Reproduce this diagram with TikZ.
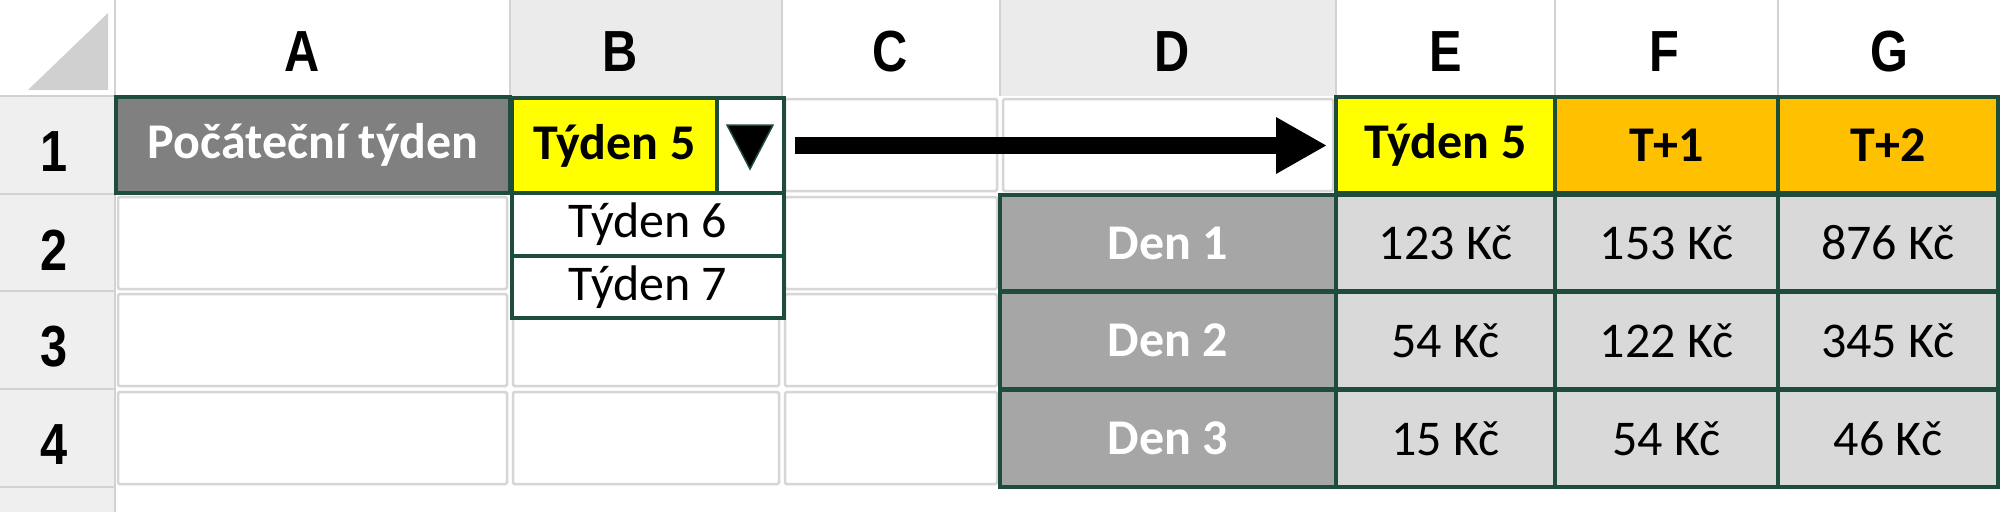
\documentclass[tikz,border=0pt]{standalone}
\usepackage{fontspec}
\setmainfont{Carlito}
\newfontfamily\hdrfont[FakeStretch=0.84]{Liberation Sans}
\usetikzlibrary{arrows.meta}
\definecolor{bord}{HTML}{1E4D3C}
\definecolor{gridc}{HTML}{D6D6D6}
\definecolor{hdrgray}{HTML}{EBEBEB}
\definecolor{rowhdr}{HTML}{EFEFEF}
\definecolor{sepc}{HTML}{D2D2D2}
\definecolor{darkfill}{HTML}{808080}
\definecolor{denfill}{HTML}{A6A6A6}
\definecolor{valfill}{HTML}{D9D9D9}
\definecolor{yel}{HTML}{FFFF00}
\definecolor{orng}{HTML}{FFC000}
\definecolor{tric}{HTML}{D0D0D0}
\tikzset{
  sz/.style 2 args={minimum width=#1pt, minimum height=#2pt},
  anyc/.style={inner sep=0pt, outer sep=0pt, anchor=north west},
  gridcell/.style={anyc, draw=gridc, line width=2.5pt, rounded corners=1.5pt, fill=white},
  hdrcell/.style={anyc},
  gbox/.style={anyc, draw=bord, line width=3.2pt},
  celltxt/.style={font=\fontsize{50}{60}\selectfont},
  boldtxt/.style={font=\fontsize{50}{60}\selectfont\bfseries},
  hdrtxt/.style={inner sep=0pt, font=\hdrfont\bfseries\fontsize{58}{66}\selectfont},
  bigarrow/.style={line width=17pt, -{Triangle[length=51pt,width=53pt]}}
}
\begin{document}
\begin{tikzpicture}[x=1pt,y=-1pt]
\useasboundingbox (0,0) rectangle (2001,512);
\fill[white] (0,0) rectangle (2001,512);
% header row
\node[hdrcell, fill=white, sz={115}{96}] (corner) at (0,0) {};
\fill[tric] (28,90) -- (108,13) -- (108,90) -- cycle;
\node[hdrcell, fill=white, sz={395}{96}] (hA) at (115,0) {};
\node[hdrcell, fill=hdrgray, sz={272}{96}] (hB) at (510,0) {};
\node[hdrcell, fill=white, sz={218}{96}] (hC) at (782,0) {};
\node[hdrcell, fill=hdrgray, sz={336}{96}] (hD) at (1000,0) {};
\node[hdrcell, fill=white, sz={219}{96}] (hE) at (1336,0) {};
\node[hdrcell, fill=white, sz={223}{96}] (hF) at (1555,0) {};
\node[hdrcell, fill=white, sz={223}{96}] (hG) at (1778,0) {};
\foreach \xx in {115,510,782,1000,1336,1555,1778}
  \draw[sepc, line width=1.5pt] (\xx,0) -- (\xx,96);
\node[hdrtxt] (lA) at (302,52) {A};
\node[hdrtxt] (lB) at (620,52) {B};
\node[hdrtxt] (lC) at (890,52) {C};
\node[hdrtxt] (lD) at (1172,52) {D};
\node[hdrtxt] (lE) at (1446,52) {E};
\node[hdrtxt] (lF) at (1664,52) {F};
\node[hdrtxt] (lG) at (1889,52) {G};
% row header column
\fill[rowhdr] (0,96) rectangle (115,512);
\foreach \yy in {96,194,291,389,487}
  \draw[sepc, line width=2.5pt] (0,\yy) -- (115,\yy);
\draw[sepc, line width=1.5pt] (115,96) -- (115,512);
\node[hdrtxt] (r1) at (54,152) {1};
\node[hdrtxt] (r2) at (54,250) {2};
\node[hdrtxt] (r3) at (54,347) {3};
\node[hdrtxt] (r4) at (54,445) {4};
% empty grid cells
\node[gridcell, sz={389}{92}] (A2) at (118,197) {};
\node[gridcell, sz={389}{92}] (A3) at (118,294) {};
\node[gridcell, sz={389}{92}] (A4) at (118,392) {};
\node[gridcell, sz={266}{92}] (B3) at (513,294) {};
\node[gridcell, sz={266}{92}] (B4) at (513,392) {};
\node[gridcell, sz={212}{92}] (C1) at (785,99) {};
\node[gridcell, sz={212}{92}] (C2) at (785,197) {};
\node[gridcell, sz={212}{92}] (C3) at (785,294) {};
\node[gridcell, sz={212}{92}] (C4) at (785,392) {};
\node[gridcell, sz={330}{92}] (D1) at (1003,99) {};
% row 1 boxes
\node[gbox, fill=darkfill, sz={394}{96}, text=white, boldtxt] (A1) at (116,97) {Počáteční týden};
\node[gbox, fill=white, sz={272}{63}, celltxt] (T6) at (512,193) {Týden 6};
\node[gbox, fill=white, sz={272}{62}, celltxt] (T7) at (512,256) {Týden 7};
\node[gbox, fill=yel, sz={205}{95}, boldtxt] (B1) at (512,98) {Týden 5};
\node[gbox, fill=white, sz={67}{95}] (btn) at (717,98) {};
\fill[black, draw=bord, line width=1.5pt] (727,125) -- (773,125) -- (750,169) -- cycle;
\node[gbox, fill=yel, sz={219}{96}, boldtxt] (E1) at (1336,97) {Týden 5};
\node[gbox, fill=orng, sz={223}{96}, boldtxt] (F1) at (1555,97) {T+1};
\node[gbox, fill=orng, sz={220}{96}, boldtxt] (G1) at (1778,97) {T+2};
% rows 2-4
\node[gbox, fill=denfill, sz={336}{96}, text=white, boldtxt] (D2) at (1000,195) {Den 1};
\node[gbox, fill=valfill, sz={219}{96}, celltxt] (E2) at (1336,195) {123 Kč};
\node[gbox, fill=valfill, sz={223}{96}, celltxt] (F2) at (1555,195) {153 Kč};
\node[gbox, fill=valfill, sz={220}{96}, celltxt] (G2) at (1778,195) {876 Kč};
\node[gbox, fill=denfill, sz={336}{97}, text=white, boldtxt] (D3) at (1000,292) {Den 2};
\node[gbox, fill=valfill, sz={219}{97}, celltxt] (E3) at (1336,292) {54 Kč};
\node[gbox, fill=valfill, sz={223}{97}, celltxt] (F3) at (1555,292) {122 Kč};
\node[gbox, fill=valfill, sz={220}{97}, celltxt] (G3) at (1778,292) {345 Kč};
\node[gbox, fill=denfill, sz={336}{97}, text=white, boldtxt] (D4) at (1000,390) {Den 3};
\node[gbox, fill=valfill, sz={219}{97}, celltxt] (E4) at (1336,390) {15 Kč};
\node[gbox, fill=valfill, sz={223}{97}, celltxt] (F4) at (1555,390) {54 Kč};
\node[gbox, fill=valfill, sz={220}{97}, celltxt] (G4) at (1778,390) {46 Kč};
% arrow
\draw[bigarrow, shorten <=11pt, shorten >=9pt] (btn.east) -- (btn.east -| E1.west);
\end{tikzpicture}
\end{document}
